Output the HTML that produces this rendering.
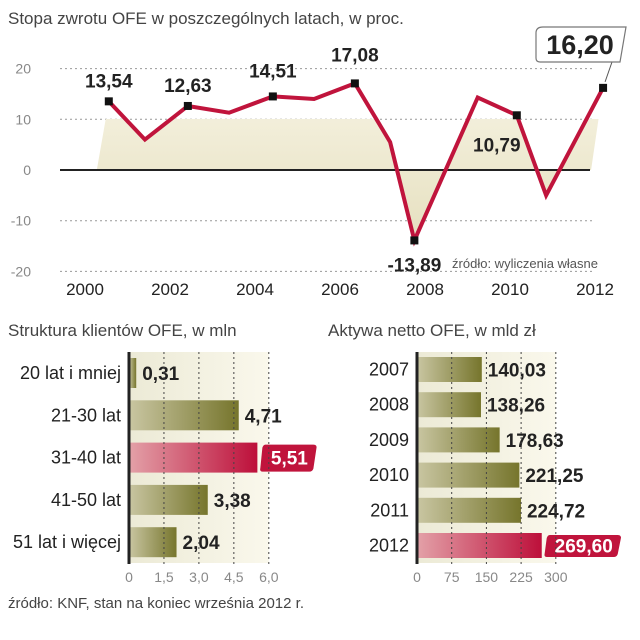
<!DOCTYPE html>
<html><head><meta charset="utf-8"><style>
body{margin:0;background:#fff;width:640px;height:640px;overflow:hidden}
svg{display:block}
text{font-family:"Liberation Sans Narrow","Liberation Sans",sans-serif}
.t{fill:#444;font-size:17px}
.tk{fill:#888;font-size:14px}
.yr{fill:#222;font-size:17px}
.v{fill:#222;font-size:19px;font-weight:bold}
.cat{fill:#222;font-size:18px}
</style></head><body>
<svg id="c" width="640" height="640" viewBox="0 0 640 640">
<defs>
<linearGradient id="ol" x1="0" x2="1" y1="0" y2="0"><stop offset="0" stop-color="#c9c6a2"/><stop offset="1" stop-color="#76752c"/></linearGradient>
<linearGradient id="rd" x1="0" x2="1" y1="0" y2="0"><stop offset="0" stop-color="#e3a1a8"/><stop offset="1" stop-color="#bd0f3a"/></linearGradient>
<linearGradient id="bg" x1="0" x2="1" y1="0" y2="0"><stop offset="0" stop-color="#ecead6"/><stop offset="1" stop-color="#faf8ec"/></linearGradient>
<linearGradient id="ar" x1="0" x2="0" y1="0" y2="1"><stop offset="0" stop-color="#f6f3e2"/><stop offset="1" stop-color="#e6e0c0"/></linearGradient>
<clipPath id="clipA"><rect x="0" y="119" width="640" height="160"/></clipPath>
</defs>
<text x="8" y="24" class="t">Stopa zwrotu OFE w poszczególnych latach, w proc.</text>
<g id="topchart"></g>
<text x="8" y="336" class="t">Struktura klientów OFE, w mln</text>
<text x="328" y="336" class="t">Aktywa netto OFE, w mld zł</text>
<g id="left"></g>
<g id="right"></g>
<text x="8" y="608" class="t" style="font-size:15px">źródło: KNF, stan na koniec września 2012 r.</text>
</svg>
<script>
// ---- line chart data ----
const lineTimes = [2000.56, 2001.41, 2002.42, 2003.39, 2004.42, 2005.39, 2006.35, 2007.18, 2007.75, 2009.24, 2010.16, 2010.85, 2012.19];
const lineValues = [13.54, 6, 12.63, 11.3, 14.51, 14, 17.08, 5.5, -13.89, 14.3, 10.79, -5, 16.2];
const labelIdx = [0, 2, 4, 6, 8, 10];
const labelText = ["13,54", "12,63", "14,51", "17,08", "-13,89", "10,79"];
const yTicks = [20, 10, 0, -10, -20];
const xTickYears = [2000, 2002, 2004, 2006, 2008, 2010, 2012];
// ---- clients bar data ----
const ageCats = ["20 lat i mniej", "21-30 lat", "31-40 lat", "41-50 lat", "51 lat i więcej"];
const ageVals = [0.31, 4.71, 5.51, 3.38, 2.04];
const ageLabels = ["0,31", "4,71", "5,51", "3,38", "2,04"];
const ageTicks = [0, 1.5, 3.0, 4.5, 6.0];
const ageTickLabels = ["0", "1,5", "3,0", "4,5", "6,0"];
// ---- assets bar data ----
const assetCats = ["2007", "2008", "2009", "2010", "2011", "2012"];
const assetVals = [140.03, 138.26, 178.63, 221.25, 224.72, 269.60];
const assetLabels = ["140,03", "138,26", "178,63", "221,25", "224,72", "269,60"];
const assetTicks = [0, 75, 150, 225, 300];

const NS = "http://www.w3.org/2000/svg";
function mk(p, tag, a, txt){const e=document.createElementNS(NS,tag);for(const k in a)e.setAttribute(k,a[k]);if(txt!==undefined)e.textContent=txt;p.appendChild(e);return e;}

const topG = document.getElementById('topchart');
const X = t => 85 + (t - 2000) * 42.5;
const Y = v => 170 - v * 5.07;
yTicks.forEach(v=>{
  if(v!==0){const l=mk(topG,'line',{x1:60,x2:592,y1:Y(v),y2:Y(v),stroke:'#999','stroke-dasharray':'2,3','stroke-width':1});
  
  }
  const t=mk(topG,'text',{x:31,y:Y(v)+5,class:'tk','text-anchor':'end'},String(v));
  
  
});
let pts = lineTimes.map((t,i)=>X(t)+','+Y(lineValues[i]));
const first = X(lineTimes[0]) - 12, last = X(lineTimes[lineTimes.length-1]) - 12;
const areaPts = [first+','+Y(0)].concat(pts).concat([last+','+Y(0)]).join(' ');
const area = mk(topG,'polygon',{points:areaPts,fill:'url(#ar)','clip-path':'url(#clipA)'});


const zl = mk(topG,'line',{x1:60,x2:590,y1:Y(0),y2:Y(0),stroke:'#222','stroke-width':2});


const pl = mk(topG,'polyline',{points:pts.join(' '),fill:'none',stroke:'#c0143c','stroke-width':4,'stroke-linejoin':'miter'});


xTickYears.forEach(y=>{
  const t=mk(topG,'text',{x:X(y),y:295,class:'yr','text-anchor':'middle'},String(y));
  
  
});
const labelDy = [-20, -20, -25, -28, 25, 30];
labelIdx.forEach((idx,k)=>{
  const px=X(lineTimes[idx]), py=Y(lineValues[idx]);
  const m=mk(topG,'rect',{x:px-4,y:py-4,width:8,height:8,fill:'#111'});
  
  
  const lx = k===5 ? px-20 : px;
  const t=mk(topG,'text',{x:lx,y:py+labelDy[k]+6,class:'v','text-anchor':'middle'},labelText[k]);
  
  
});
const li = lineTimes.length-1, lpx = X(lineTimes[li]), lpy = Y(lineValues[li]);
const lm = mk(topG,'rect',{x:lpx-4,y:lpy-4,width:8,height:8,fill:'#111'});


const cn = mk(topG,'line',{x1:lpx+2,y1:lpy-6,x2:612,y2:62,stroke:'#555','stroke-width':1});


const bx = mk(topG,'path',{d:'M543,27 H626 L620,62 H540 Q536,62 536,58 V33 Q536,27 543,27 Z',fill:'#fff',stroke:'#777','stroke-width':1.2});


const bt = mk(topG,'text',{x:580,y:54,class:'v','text-anchor':'middle'},'16,20');
bt.style.fontSize='27px';


const src = mk(topG,'text',{x:598,y:268,fill:'#555','font-size':'13','text-anchor':'end'},'źródło: wyliczenia własne');



function barChart(g, cats, vals, labs, ticks, tickLabs, x0, scale, y0, step, h, hi){
  const bgw = (ticks[ticks.length-1]-ticks[0])*scale;
  const bgr = mk(g,'rect',{x:x0,y:352,width:bgw,height:211,fill:'url(#bg)'});
  
  
  cats.forEach((c,i)=>{
    const y = y0 + i*step, w = vals[i]*scale;
    const r = mk(g,'rect',{x:x0,y:y,width:w,height:h,fill: i===hi?'url(#rd)':'url(#ol)'});
    
    
    const ct = mk(g,'text',{x:x0-8,y:y+h/2+6,class:'cat','text-anchor':'end'},c);
    
    
    if(i===hi){
      const tw = labs[i].length*10+8;
      const a = x0+w;
      const lb = mk(g,'path',{d:`M${a+8},${y+2} H${a+8+tw} Q${a+12+tw},${y+2} ${a+11+tw},${y+6} L${a+8+tw},${y+h-4} Q${a+7+tw},${y+h-1} ${a+4+tw},${y+h-1} H${a+5} Q${a+2},${y+h-1} ${a+3},${y+h-5} L${a+5},${y+5} Q${a+6},${y+2} ${a+8},${y+2} Z`,fill:'#c0143c'});
      
      
      const vt = mk(g,'text',{x:a+8+tw/2,y:y+h/2+7,class:'v','text-anchor':'middle'},labs[i]);
      vt.style.fill='#fff';
      
      
    } else {
      const vt = mk(g,'text',{x:x0+w+6,y:y+h/2+7,class:'v'},labs[i]);
      
      
    }
  });
  ticks.forEach((t,i)=>{
    const x = x0 + t*scale;
    if(i>0){const l=mk(g,'line',{x1:x,x2:x,y1:352,y2:564,stroke:'#444','stroke-dasharray':'2,3','stroke-width':1});
    
    }
    const tl=mk(g,'text',{x:x,y:582,class:'tk','text-anchor':'middle'},tickLabs[i]);
    
    
  });
  const ax = mk(g,'line',{x1:x0,x2:x0,y1:352,y2:564,stroke:'#222','stroke-width':3});
  
  
}
barChart(document.getElementById('left'), ageCats, ageVals, ageLabels, ageTicks, ageTickLabels, 129, 23.3, 358, 42.3, 30, 2);
barChart(document.getElementById('right'), assetCats, assetVals, assetLabels, assetTicks, assetTicks.map(String), 417, 0.4627, 357, 35.2, 25, 5);
</script>
</body></html>
